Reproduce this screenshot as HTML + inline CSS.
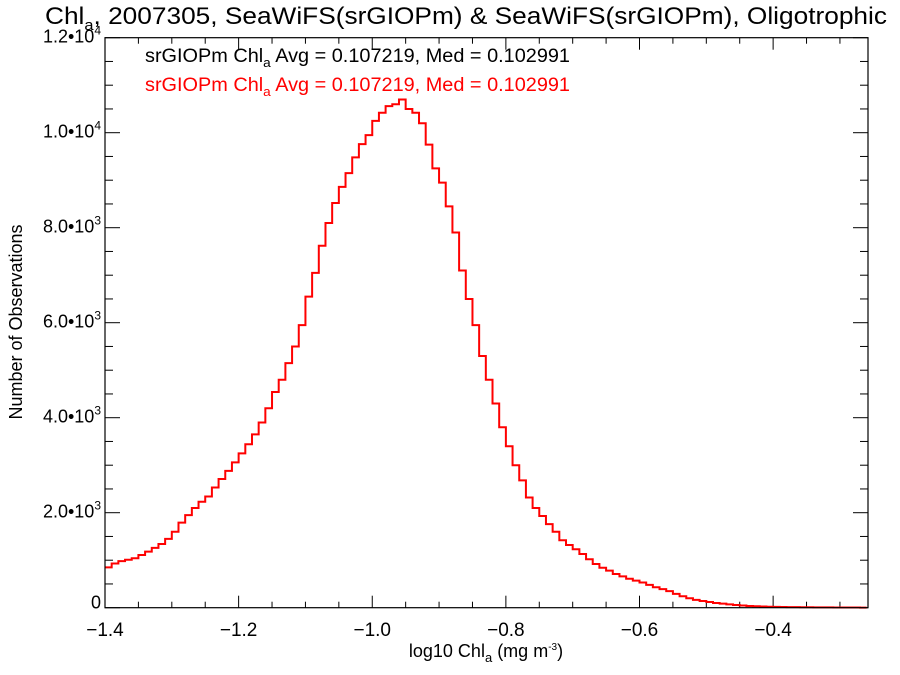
<!DOCTYPE html>
<html><head><meta charset="utf-8"><style>
html,body{margin:0;padding:0;background:#fff;}
svg{display:block;font-family:"Liberation Sans",Arial,sans-serif;}
</style></head><body>
<svg id="chart" width="900" height="675" viewBox="0 0 900 675" xmlns="http://www.w3.org/2000/svg">
<text x="45" y="24" font-size="24" textLength="842" lengthAdjust="spacingAndGlyphs">Chl<tspan font-size="15" dy="6">a</tspan><tspan dy="-6">, 2007305, SeaWiFS(srGIOPm) &amp; SeaWiFS(srGIOPm), Oligotrophic</tspan></text>
<text x="145" y="62" font-size="19" fill="#000" textLength="425" lengthAdjust="spacingAndGlyphs">srGIOPm Chl<tspan font-size="13" dy="5">a</tspan><tspan dy="-5"> Avg = 0.107219, Med = 0.102991</tspan></text>
<text x="145" y="91" font-size="19" fill="#ff0000" textLength="425" lengthAdjust="spacingAndGlyphs">srGIOPm Chl<tspan font-size="13" dy="5">a</tspan><tspan dy="-5"> Avg = 0.107219, Med = 0.102991</tspan></text>
<text transform="translate(22,322) rotate(-90)" font-size="18" text-anchor="middle">Number of Observations</text>
<text x="486" y="657" font-size="18" text-anchor="middle">log10 Chl<tspan font-size="13" dy="5">a</tspan><tspan dy="-5"> (mg m</tspan><tspan font-size="10" dy="-7">-3</tspan><tspan dy="7">)</tspan></text>
<g id="axes"></g>
<g id="series"></g>
<rect x="105" y="37.7" width="763" height="570" fill="none" stroke="#000" stroke-width="1.2"/>
</svg>
<script>
const binEdgesStart = -1.40;
const binWidth = 0.01;
const counts = [850,930,980,1010,1040,1110,1180,1260,1340,1450,1600,1790,1950,2100,2230,2340,2530,2710,2880,3060,3250,3440,3650,3900,4200,4540,4800,5150,5500,5950,6550,7050,7620,8100,8520,8860,9150,9480,9760,9950,10250,10420,10560,10600,10700,10500,10420,10200,9750,9250,8950,8450,7900,7100,6500,5950,5300,4800,4300,3800,3400,3000,2680,2320,2100,1930,1760,1600,1420,1320,1230,1130,1020,920,840,780,710,660,610,570,530,480,430,390,350,290,240,200,165,140,120,100,85,70,58,46,36,30,25,21,18,15,13,11,10,9,8,7,6,5,4,3,3,2];
const xTickValues = [-1.4,-1.2,-1.0,-0.8,-0.6,-0.4];
const xTickLabels = ["\u22121.4","\u22121.2","\u22121.0","\u22120.8","\u22120.6","\u22120.4"];
const yTickValues = [0,2000,4000,6000,8000,10000,12000];
const yTickMant = ["0","2.0","4.0","6.0","8.0","1.0","1.2"];
const yTickExp = ["","3","3","3","3","4","4"];
const xMin=-1.4,xMax=-0.258,yMin=0,yMax=12000;
const L=105,R=868,T=37.7,B=607.7;
function xs(v){return L+(v-xMin)/(xMax-xMin)*(R-L);}
function ys(v){return B-(v-yMin)/(yMax-yMin)*(B-T);}
const NS="http://www.w3.org/2000/svg";
const axes=document.getElementById('axes');
function ln(x1,y1,x2,y2,name){const e=document.createElementNS(NS,'line');e.setAttribute('x1',x1);e.setAttribute('y1',y1);e.setAttribute('x2',x2);e.setAttribute('y2',y2);e.setAttribute('stroke','#000');e.setAttribute('stroke-width','1');


axes.appendChild(e);}
for(let v=-1.4;v<=xMax+1e-9;v+=0.05){const x=xs(v);const maj=Math.abs(Math.round(v*5)-v*5)<1e-6;const len=maj?12:6;ln(x,B,x,B-len,'x-tick');ln(x,T,x,T+len,'x-tick-top');}
for(let v=0;v<=yMax;v+=500){const y=ys(v);const maj=v%2000===0;const len=maj?15:8;ln(L,y,L+len,y,'y-tick');ln(R,y,R-len,y,'y-tick-right');}
xTickValues.forEach((v,i)=>{const t=document.createElementNS(NS,'text');t.setAttribute('x',xs(v));t.setAttribute('y',636);t.setAttribute('font-size','19');t.setAttribute('text-anchor','middle');t.textContent=xTickLabels[i];


axes.appendChild(t);});
yTickValues.forEach((v,i)=>{const t=document.createElementNS(NS,'text');t.setAttribute('x',101);t.setAttribute('y',ys(v)+(v===0?1:5));t.setAttribute('font-size','18');t.setAttribute('text-anchor','end');
if(yTickExp[i]){t.textContent=yTickMant[i]+'\u2022'+'10';const s=document.createElementNS(NS,'tspan');s.setAttribute('font-size','12');s.setAttribute('dy','-8');s.textContent=yTickExp[i];t.appendChild(s);}else{t.textContent=yTickMant[i];}


axes.appendChild(t);});
let d='';
counts.forEach((c,i)=>{const x0=xs(binEdgesStart+i*binWidth),x1=Math.min(R,xs(binEdgesStart+(i+1)*binWidth)),y=ys(c);d+=(i===0?'M':'L')+x0.toFixed(2)+','+y.toFixed(2)+'L'+x1.toFixed(2)+','+y.toFixed(2);});
const p=document.createElementNS(NS,'path');p.setAttribute('d',d);p.setAttribute('fill','none');p.setAttribute('stroke','#ff0000');p.setAttribute('stroke-width','2');


document.getElementById('series').appendChild(p);
</script>
</body></html>
